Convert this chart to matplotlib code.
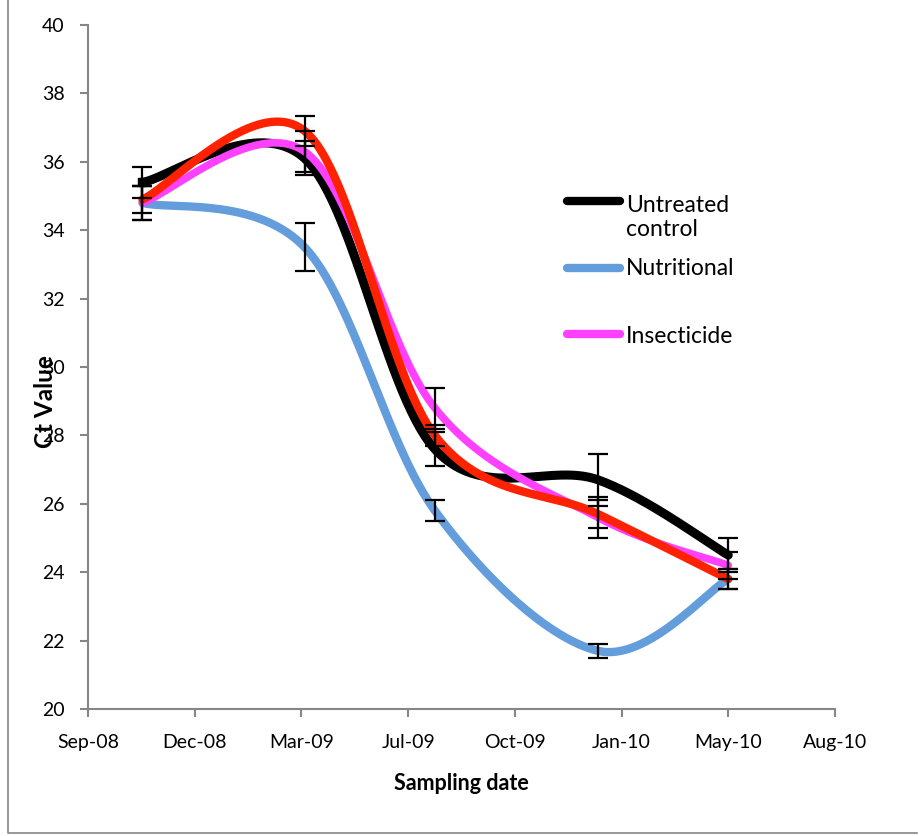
import numpy as np
import pandas as pd
import matplotlib
matplotlib.use('Agg')
import matplotlib.pyplot as plt
import matplotlib.dates as mdates
from matplotlib.lines import Line2D

# Sampling dates and Ct values
dates = pd.to_datetime(['2008-10-31', '2009-04-01', '2009-08-01', '2010-01-01', '2010-05-03'])
control = [35.4, 36.1, 27.6, 26.7, 24.5]
control_err = [0.45, 0.5, 0.5, 0.75, 0.5]
nutritional = [34.8, 33.5, 25.8, 21.7, 23.8]
nutritional_err = [0.5, 0.7, 0.3, 0.2, 0.3]
insecticide = [34.8, 36.3, 28.8, 25.6, 24.2]
insecticide_err = [0.5, 0.6, 0.6, 0.6, 0.4]
combined = [34.9, 36.9, 28.0, 25.7, 23.8]
combined_err = [0.4, 0.45, 0.3, 0.4, 0.3]

x_start = pd.Timestamp('2008-09-10')
tick_dates = [x_start + pd.Timedelta(days=100 * i) for i in range(8)]
y_ticks = list(range(20, 41, 2))

plt.rcParams['font.family'] = ['Lato', 'DejaVu Sans']


def smooth(x, y, n=60):
    # Excel-style smoothed line: cubic bezier through the points
    pts = np.column_stack([x, y]).astype(float)
    xs, ys = [], []
    for i in range(len(pts) - 1):
        p0 = pts[i - 1] if i > 0 else pts[i]
        p1, p2 = pts[i], pts[i + 1]
        p3 = pts[i + 2] if i + 2 < len(pts) else pts[i + 1]
        c1 = p1 + (p2 - p0) / 6
        c2 = p2 - (p3 - p1) / 6
        t = np.linspace(0, 1, n)[:, None]
        seg = ((1 - t) ** 3) * p1 + 3 * ((1 - t) ** 2) * t * c1 + 3 * (1 - t) * t ** 2 * c2 + t ** 3 * p2
        xs.extend(seg[:, 0])
        ys.extend(seg[:, 1])
    return np.array(xs), np.array(ys)


fig = plt.figure(figsize=(9.19, 8.36), dpi=100)
ax = fig.add_axes([0.0958, 0.1519, 0.8128, 0.8182])

xnum = mdates.date2num(dates)
series = [
    (control, control_err, 'black', 6.5),
    (nutritional, nutritional_err, '#639ddb', 6.0),
    (insecticide, insecticide_err, '#ff40ff', 5.5),
    (combined, combined_err, '#ff2200', 6.0),
]
for vals, errs, col, lw in series:
    sx, sy = smooth(xnum, vals)
    ax.plot(sx, sy, color=col, lw=lw, solid_capstyle='round', zorder=2)
    ax.errorbar(xnum, vals, yerr=errs, fmt='none', ecolor='black',
                elinewidth=1.6, capsize=7, capthick=1.6, zorder=3)
ax.plot(xnum[:1], control[:1], 's', color='black', ms=6, zorder=4)

ax.set_xlim(mdates.date2num(tick_dates[0]), mdates.date2num(tick_dates[-1]))
ax.set_ylim(20, 40)
ax.set_xticks(mdates.date2num(tick_dates))
ax.set_xticklabels([d.strftime('%b-%y') for d in tick_dates])
ax.set_yticks(y_ticks)

for s in ['top', 'right']:
    ax.spines[s].set_visible(False)
for s in ['left', 'bottom']:
    ax.spines[s].set_color('#868686')
    ax.spines[s].set_linewidth(1.5)
ax.tick_params(axis='both', direction='out', length=6, width=1.5, color='#868686',
               labelsize=14)
ax.tick_params(axis='x', pad=12)
ax.tick_params(axis='y', pad=11)

ax.set_xlabel('Sampling date', fontsize=15.5, fontweight='bold', labelpad=16)
# y label sits over the tick labels, as in the original chart
fig.text(0.049, 0.52, 'Ct Value', rotation=90, fontsize=17.5, fontweight='bold',
         ha='center', va='center')

# legend (only three entries, as in the original)
legend_items = [('Untreated\ncontrol', 'black', 0.759, 0.740), ('Nutritional', '#639ddb', 0.679, 0.679),
                ('Insecticide', '#ff40ff', 0.600, 0.598)]
for label, col, ly, ty in legend_items:
    fig.add_artist(Line2D([0.617, 0.675], [ly, ly], color=col, lw=6, solid_capstyle='round'))
    fig.text(0.681, ty, label, fontsize=16.5, va='center', ha='left', linespacing=1.15)

# chart area border
fig.add_artist(Line2D([0.009, 0.009, 0.998], [1.0, 0.004, 0.004], color='#868686', lw=1.2))

fig.savefig('out.png', dpi=100)
